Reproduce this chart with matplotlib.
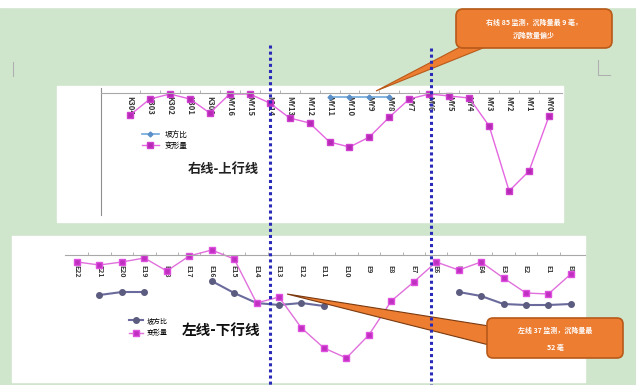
import matplotlib
matplotlib.use("Agg")
import matplotlib.pyplot as plt
import numpy as np
from matplotlib.patches import Rectangle, FancyBboxPatch, Polygon

plt.rcParams['font.family'] = ['Noto Sans CJK SC', 'DejaVu Sans']

# 上行线 (右线) 测点
up_labels = ['K304', 'K303', 'K302', 'K301', 'K300', 'MY16', 'MY15', 'MY14',
             'MY13', 'MY12', 'MY11', 'MY10', 'MY9', 'MY8', 'MY7', 'MY6',
             'MY5', 'MY4', 'MY3', 'MY2', 'MY1', 'MY0']
up_deform = [-22, -6, -1, -6, -20, -1, -1, -10, -25, -30, -49, -54, -44, -24,
             -6, -1, -3, -5, -33, -98, -78, -23]
up_ratio = [np.nan] * 10 + [-4, -4, -4, -4] + [np.nan] * 8

# 下行线 (左线) 测点
down_labels = ['E22', 'E21', 'E20', 'E19', 'E18', 'E17', 'E16', 'E15', 'E14',
               'E13', 'E12', 'E11', 'E10', 'E9', 'E8', 'E7', 'E6', 'E5', 'E4',
               'E3', 'E2', 'E1', 'E0']
down_deform = [-7, -10, -7, -3, -16, -1, 5, -4, -48, -42, -73, -93, -103, -80,
               -46, -27, -7, -15, -7, -23, -38, -39, -19]
down_ratio = [np.nan, -40, -37, -37, np.nan, np.nan, -26, -38, -48, -50, -48,
              -51, np.nan, np.nan, np.nan, np.nan, np.nan, -37, -41, -49, -50,
              -50, -49]

legend_names = ['坡方比', '变形量']
W, H = 636, 385
green = '#cfe6cd'


def px_axes(fig, left, top, right, bottom, **kw):
    # 像素坐标 -> figure 坐标
    return fig.add_axes([left / W, 1 - bottom / H, (right - left) / W,
                         (bottom - top) / H], **kw)


fig = plt.figure(figsize=(6.36, 3.85), dpi=100, facecolor=green)

# 背景层
bg = px_axes(fig, 0, 0, W, H, zorder=0)
bg.set_xlim(0, W)
bg.set_ylim(H, 0)
bg.axis('off')
bg.add_patch(Rectangle((0, 0), W, 7, color='white'))
bg.add_patch(Rectangle((57, 86), 506, 136, color='white'))
bg.add_patch(Rectangle((12, 236), 573, 146, color='white'))
bg.plot([13, 13], [62, 76], color='#b0b0b0', lw=0.8)
bg.plot([598, 598, 610], [60, 75, 75], color='#b0b0b0', lw=0.8)

# 上行线图
ax1 = px_axes(fig, 101, 88, 562, 215, zorder=2)
ax1.patch.set_alpha(0)
x1 = np.arange(len(up_labels))
ax1.plot(x1, up_ratio, color='#6fa8dc', lw=1.2, marker='D', ms=2.5,
         mfc='#5b8fc8', mec='#5b8fc8')
ax1.plot(x1, up_deform, color='#e466e0', lw=1.0, marker='s', ms=4,
         mfc='#b52ab5', mec='#d040d0')
ax1.set_xlim(-1.454, 21.65)
ax1.set_ylim(-122, 5)

# 下行线图
ax2 = px_axes(fig, 65, 240, 585, 378, zorder=2)
ax2.patch.set_alpha(0)
x2 = np.arange(len(down_labels))
ax2.plot(x2, down_ratio, color='#6a6a9c', lw=1.5, marker='o', ms=4,
         mfc='#5c5c80', mec='#5c5c80')
ax2.plot(x2, down_deform, color='#e070dc', lw=1.0, marker='s', ms=4,
         mfc='#c030c0', mec='#e050e0')
ax2.set_xlim(-0.535, 22.63)
ax2.set_ylim(-123, 15)

for ax, xs, labels, pad, fs in [(ax1, x1, up_labels, 2, 5.5),
                                (ax2, x2, down_labels, 7, 5)]:
    for s in ['top', 'right']:
        ax.spines[s].set_visible(False)
    ax.spines['bottom'].set_position(('data', 0))
    ax.spines['bottom'].set_color('#a8a8a8')
    ax.spines['bottom'].set_linewidth(0.8)
    ax.set_xticks(xs)
    ax.set_xticklabels(labels, rotation=270, fontsize=fs, fontweight='bold',
                       color='#383838')
    ax.set_xticks(xs[:-1] + 0.5, minor=True)
    ax.tick_params(axis='x', which='major', length=0, pad=pad)
    ax.tick_params(axis='x', which='minor', length=2.5, direction='in',
                   color='#a8a8a8')
    ax.set_yticks([])
ax1.spines['left'].set_color('#909090')
ax1.spines['left'].set_linewidth(0.8)
ax2.spines['left'].set_visible(False)

ax1.legend(ax1.get_lines(), legend_names, loc='upper left', frameon=False,
           fontsize=5.5, handlelength=2.2, labelspacing=0.35,
           bbox_to_anchor=(135 / W, 1 - 124 / H),
           bbox_transform=fig.transFigure)
ax2.legend(ax2.get_lines(), legend_names, loc='upper left', frameon=False,
           fontsize=5, handlelength=2.0, handletextpad=0.6, labelspacing=0.6,
           borderpad=0.2, bbox_to_anchor=(124 / W, 1 - 312 / H),
           bbox_transform=fig.transFigure)

fig.text(223 / W, 1 - 169 / H, '右线-上行线', ha='center', va='center',
         fontsize=9.5, fontweight='bold', color='#202020')
fig.text(221 / W, 1 - 330 / H, '左线-下行线', ha='center', va='center',
         fontsize=10.5, fontweight='bold', color='#101010')

# 标注层
top = px_axes(fig, 0, 0, W, H, zorder=5)
top.set_xlim(0, W)
top.set_ylim(H, 0)
top.axis('off')
top.patch.set_alpha(0)

orange = '#ed7d31'
edge = '#b85a1a'
top.add_patch(Polygon([(376, 91), (462, 46), (488, 46)], closed=True,
                      fc=orange, ec=edge, lw=0.8))
top.add_patch(FancyBboxPatch((456, 9), 156, 39,
                             boxstyle='round,pad=0,rounding_size=7',
                             fc=orange, ec=edge, lw=1.2))
top.text(534, 22, '右线 85 监测，沉降量最 9 毫，', ha='center', va='center',
         fontsize=5, color='white', fontweight='bold')
top.text(534, 35, '沉降数量偏少', ha='center', va='center',
         fontsize=5, color='white', fontweight='bold')

top.add_patch(Polygon([(287, 294), (489, 326), (489, 345)], closed=True,
                      fc=orange, ec='#7a3a10', lw=0.8))
top.add_patch(FancyBboxPatch((487, 318), 136, 40,
                             boxstyle='round,pad=0,rounding_size=6',
                             fc=orange, ec=edge, lw=1.2))
top.text(555, 330, '左线 37 监测，沉降量最', ha='center', va='center',
         fontsize=5, color='white', fontweight='bold')
top.text(555, 347, '52 毫', ha='center', va='center',
         fontsize=5, color='white', fontweight='bold')

top.plot([270, 270], [45, 385], color='#2a2ab8', lw=2.2,
         linestyle=(0, (1, 1)))
top.plot([431, 431], [48, 385], color='#2a2ab8', lw=2.2,
         linestyle=(0, (1, 1)))

fig.savefig('out.png', dpi=100, facecolor=green)
